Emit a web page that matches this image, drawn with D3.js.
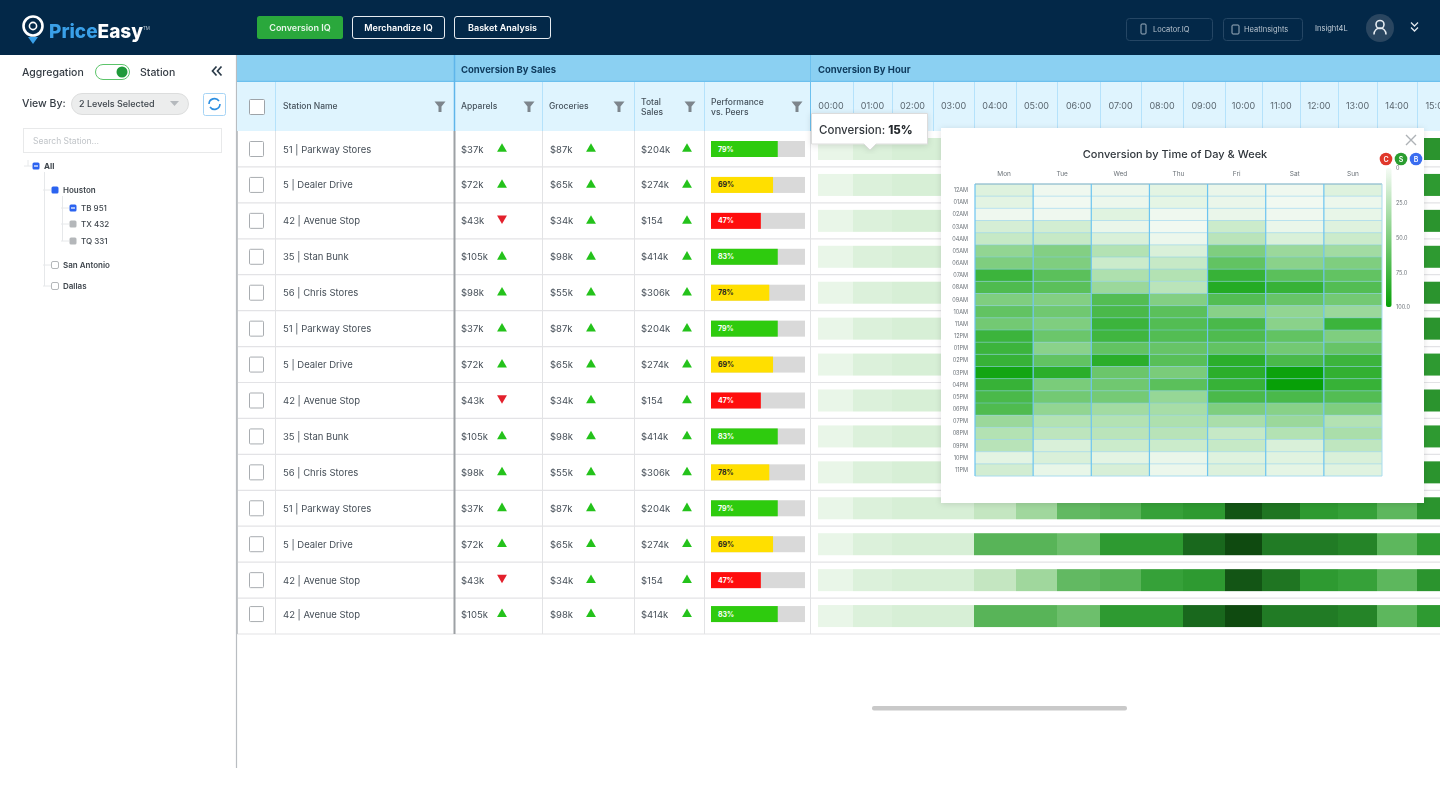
<!DOCTYPE html>
<html>
<head>
<meta charset="utf-8">
<title>PriceEasy Conversion IQ</title>
<script src="https://cdn.jsdelivr.net/npm/d3@7"></script>
<style>
  html, body { margin: 0; background: #fff; overflow: hidden; }
  svg { display: block; filter: blur(.7px); }
  text { font-family: Inter, "Open Sans", sans-serif; }
</style>
</head>
<body>
<svg id="board" width="1440" height="809"></svg>
<script>

var stations = ['51 | Parkway Stores', '5 | Dealer Drive', '42 | Avenue Stop', '35 | Stan Bunk', '56 | Chris Stores',
                '51 | Parkway Stores', '5 | Dealer Drive', '42 | Avenue Stop', '35 | Stan Bunk', '56 | Chris Stores',
                '51 | Parkway Stores', '5 | Dealer Drive', '42 | Avenue Stop', '42 | Avenue Stop'];
var apparels = ['$37k', '$72k', '$43k', '$105k', '$98k', '$37k', '$72k', '$43k', '$105k', '$98k', '$37k', '$72k', '$43k', '$105k'];
var apparelsUp = [1, 1, 0, 1, 1, 1, 1, 0, 1, 1, 1, 1, 0, 1];
var groceries = ['$87k', '$65k', '$34k', '$98k', '$55k', '$87k', '$65k', '$34k', '$98k', '$55k', '$87k', '$65k', '$34k', '$98k'];
var totals = ['$204k', '$274k', '$154', '$414k', '$306k', '$204k', '$274k', '$154', '$414k', '$306k', '$204k', '$274k', '$154', '$414k'];
var perfLabels = ['79%', '69%', '47%', '83%', '78%', '79%', '69%', '47%', '83%', '78%', '79%', '69%', '47%', '83%'];
var perfBars = [71, 66, 53, 71, 62, 71, 66, 53, 71, 62, 71, 66, 53, 71];
var perfBands = ['good', 'mid', 'bad', 'good', 'mid', 'good', 'mid', 'bad', 'good', 'mid', 'good', 'mid', 'bad', 'good'];

var hours = ['00:00', '01:00', '02:00', '03:00', '04:00', '05:00', '06:00', '07:00', '08:00', '09:00', '10:00', '11:00', '12:00', '13:00', '14:00', '15:00'];
var hourlyRamp = [3, 8, 10, 10, 18, 32, 54, 58, 72, 76, 97, 88, 76, 72, 56, 78];
var hourlyPeak = [3, 8, 10, 10, 58, 58, 50, 76, 76, 92, 100, 86, 86, 83, 56, 76];
var rowHourly = [hourlyRamp, hourlyPeak, hourlyRamp, hourlyPeak, hourlyRamp, hourlyRamp, hourlyPeak, hourlyRamp, hourlyPeak, hourlyRamp, hourlyRamp, hourlyPeak, hourlyRamp, hourlyPeak];

var days = ['Mon', 'Tue', 'Wed', 'Thu', 'Fri', 'Sat', 'Sun'];
var dayHours = ['12AM', '01AM', '02AM', '03AM', '04AM', '05AM', '06AM', '07AM', '08AM', '09AM', '10AM', '11AM',
                '12PM', '01PM', '02PM', '03PM', '04PM', '05PM', '06PM', '07PM', '08PM', '09PM', '10PM', '11PM'];
var weekly = [
  [10, 3, 4, 8, 5, 3, 10],
  [8, 2, 4, 7, 5, 2, 4],
  [3, 3, 9, 3, 5, 3, 6],
  [14, 15, 5, 2, 18, 5, 10],
  [20, 20, 12, 4, 25, 12, 18],
  [42, 48, 28, 12, 50, 38, 35],
  [50, 50, 18, 20, 62, 45, 50],
  [78, 65, 30, 28, 80, 65, 62],
  [70, 65, 38, 25, 88, 80, 68],
  [50, 48, 68, 48, 68, 60, 55],
  [62, 56, 72, 65, 46, 42, 38],
  [55, 50, 78, 68, 72, 45, 78],
  [78, 58, 76, 68, 70, 62, 50],
  [78, 45, 62, 60, 62, 55, 60],
  [80, 62, 85, 66, 85, 72, 78],
  [95, 85, 58, 52, 85, 98, 82],
  [80, 52, 56, 65, 80, 100, 80],
  [72, 55, 54, 40, 72, 72, 68],
  [70, 42, 35, 33, 50, 46, 50],
  [38, 28, 28, 30, 32, 38, 28],
  [28, 24, 25, 26, 20, 28, 32],
  [26, 12, 18, 18, 20, 12, 23],
  [8, 12, 8, 5, 10, 9, 12],
  [15, 6, 13, 4, 11, 7, 9]
];
var legendTicks = [0, 25, 50, 75, 100];

var hourEdges = [818, 853, 892, 933, 974, 1016, 1057, 1100, 1141, 1183, 1225, 1262, 1300, 1338, 1377, 1417, 1457];
var DARK = '#032848', INK = '#454e57', FILTER = '#7d858c';

var svg = d3.select('#board');

function label(parent, x, y, str, size, fill, weight, anchor) {
  return parent.append('text')
      .attr('x', x).attr('y', y)
      .attr('font-size', size)
      .attr('fill', fill)
      .attr('font-weight', weight || 400)
      .attr('text-anchor', anchor || 'start')
      .text(str);
}

function box(parent, x, y, w, h, fill, stroke, r) {
  return parent.append('rect')
      .attr('x', x).attr('y', y).attr('width', w).attr('height', h)
      .attr('fill', fill || 'none')
      .attr('stroke', stroke || 'none')
      .attr('rx', r || 0);
}

function vline(parent, x, y1, y2, stroke, w) {
  return parent.append('line')
      .attr('x1', x).attr('x2', x).attr('y1', y1).attr('y2', y2)
      .attr('stroke', stroke).attr('stroke-width', w || 1);
}

function hline(parent, y, x1, x2, stroke, w) {
  return parent.append('line')
      .attr('x1', x1).attr('x2', x2).attr('y1', y).attr('y2', y)
      .attr('stroke', stroke).attr('stroke-width', w || 1);
}

// ---- top bar
var topBar = svg.append('g');
box(topBar, 0, 0, 1440, 55, DARK);
topBar.append('circle').attr('cx', 33).attr('cy', 26).attr('r', 9.5).attr('fill', 'none').attr('stroke', '#fff').attr('stroke-width', 2.6);
topBar.append('circle').attr('cx', 33).attr('cy', 26).attr('r', 3.6).attr('fill', 'none').attr('stroke', '#fff').attr('stroke-width', 1.6);
topBar.append('path').attr('d', 'M28 37L38 37L33 44Z').attr('fill', '#3aa0e8');
var logo = label(topBar, 49, 38, 'Price', 19, '#3aa0e8', 800);
logo.append('tspan').attr('fill', '#fff').text('Easy');
logo.append('tspan').attr('fill', '#b9c4ce').attr('font-size', 4.5).attr('dy', -8).attr('font-weight', 400).text('TM');

box(topBar, 257, 16, 86, 23, '#2aa83c', null, 2.5);
label(topBar, 300, 30.5, 'Conversion IQ', 9, '#e8f6ea', 600, 'middle');
box(topBar, 352.5, 16.5, 92, 22, 'none', '#e6ebf0', 2.5);
label(topBar, 398.5, 30.5, 'Merchandize IQ', 9, '#fff', 600, 'middle');
box(topBar, 454.5, 16.5, 96, 22, 'none', '#e6ebf0', 2.5);
label(topBar, 502.5, 30.5, 'Basket Analysis', 9, '#fff', 600, 'middle');

box(topBar, 1126.5, 18.5, 86, 22, 'none', '#254664', 3);
box(topBar, 1141, 24, 5, 10, 'none', '#9fb0bf', 1);
label(topBar, 1153, 32, 'Locator.IQ', 7.5, '#b7c3ce');
box(topBar, 1223.5, 18.5, 79, 22, 'none', '#254664', 3);
box(topBar, 1232, 25, 7, 9, 'none', '#9fb0bf', 1);
label(topBar, 1244, 32, 'HeatInsights', 7.5, '#b7c3ce');
label(topBar, 1315, 31, 'Insight4L', 7.5, '#c3ced8');
topBar.append('circle').attr('cx', 1380).attr('cy', 28).attr('r', 14).attr('fill', '#2a4660');
topBar.append('circle').attr('cx', 1380).attr('cy', 24.5).attr('r', 4).attr('fill', 'none').attr('stroke', '#e6ebf0').attr('stroke-width', 1.6);
topBar.append('path').attr('d', 'M1374 34.5C1374 26 1386 26 1386 34.5').attr('fill', 'none').attr('stroke', '#e6ebf0').attr('stroke-width', 1.6);
topBar.append('path').attr('d', 'M1411 22.5L1414.5 26L1418 22.5M1411 27.5L1414.5 31L1418 27.5').attr('fill', 'none').attr('stroke', '#dfe6ec').attr('stroke-width', 1.3);

// ---- left panel
var side = svg.append('g');
vline(side, 236.5, 55, 768, '#b9bdc1', 1.2);
label(side, 22, 76, 'Aggregation', 10.5, '#353c44', 500);
box(side, 95.5, 64.5, 34, 15, '#fff', '#5cc46a', 7.5);
side.append('circle').attr('cx', 122).attr('cy', 72).attr('r', 5.5).attr('fill', '#1f9a3a');
label(side, 140, 76, 'Station', 10.5, '#353c44', 500);
side.append('path').attr('d', 'M216.5 66.5L212.5 71L216.5 75.5M221.5 66.5L217.5 71L221.5 75.5').attr('fill', 'none').attr('stroke', '#2a3a48').attr('stroke-width', 1.7);
label(side, 22, 107, 'View By:', 10.5, '#353c44', 500);
box(side, 71.5, 93.5, 117, 21, '#eceded', '#dcdddd', 10.5);
label(side, 79, 107, '2 Levels Selected', 9, '#3e454c', 500);
side.append('path').attr('d', 'M170 101L179 101L174.5 106Z').attr('fill', '#b5b9bd');
box(side, 203.5, 93.5, 22, 22, '#fff', '#a6d4f5', 2);
side.append('path').attr('d', 'M209 104A5.5 5.5 0 0 1 219 101M220 104A5.5 5.5 0 0 1 210 107').attr('fill', 'none').attr('stroke', '#2e8fe0').attr('stroke-width', 1.6);
box(side, 23.5, 128.5, 198, 24, '#fff', '#e8e9ea');
label(side, 33, 144, 'Search Station...', 8.5, '#c0c4c8');

var treeNodes = [
  { name: 'All', x: 36, y: 166, state: 'on', w: 700 },
  { name: 'Houston', x: 55, y: 190, state: 'on', w: 600 },
  { name: 'TB 951', x: 73, y: 208, state: 'on', w: 500 },
  { name: 'TX 432', x: 73, y: 224, state: 'some', w: 500 },
  { name: 'TQ 331', x: 73, y: 241, state: 'some', w: 500 },
  { name: 'San Antonio', x: 55, y: 265, state: 'off', w: 600 },
  { name: 'Dallas', x: 55, y: 286, state: 'off', w: 600 }
];
vline(side, 28, 160, 166, '#e6e8ea');
vline(side, 44.5, 172, 286, '#e6e8ea');
vline(side, 62.5, 196, 241, '#e6e8ea');
treeNodes.forEach(function(n) {
  hline(side, n.y, n.x - 12, n.x - 4, '#e6e8ea');
  var fill = n.state === 'on' ? '#2b63f0' : n.state === 'some' ? '#b4b7ba' : '#fff';
  var stroke = n.state === 'off' ? '#b4b7ba' : 'none';
  box(side, n.x - 3.5, n.y - 3.5, 7, 7, fill, stroke, 1.5);
  if (n.name === 'All' || n.name === 'TB 951') hline(side, n.y, n.x - 2, n.x + 2, '#fff', 1.2);
  label(side, n.x + 8, n.y + 3, n.name, 8, '#3e454c', n.w);
});

// ---- table frame
var rowY = d3.scaleBand().domain(d3.range(stations.length)).range([131, 634]);
var hourX = d3.scaleOrdinal().domain(hours).range(hourEdges);
var hourW = function(h) { return hourEdges[hours.indexOf(h) + 1] - hourX(h); };

var band = svg.append('g');
box(band, 237, 55, 1203, 27, '#8bd0f2');
hline(band, 81.5, 237, 1440, '#6cc0ee', 1.5);
box(band, 237, 82, 1203, 49, '#dff4fe');
label(band, 461, 72.5, 'Conversion By Sales', 9.5, '#0e3a5c', 700);
label(band, 818, 72.5, 'Conversion By Hour', 9.5, '#0e3a5c', 700);
vline(band, 454.5, 55, 131, '#5fb5ea', 1.5);
vline(band, 810.5, 55, 131, '#6cc0ee', 1);

[275, 542, 634, 704].forEach(function(x) { vline(band, x + .5, 82, 131, '#b5e2fb'); });
hourEdges.slice(1, -1).forEach(function(x) { vline(band, x + .5, 82, 131, '#b5e2fb'); });
box(band, 249.5, 99.5, 15, 15, '#fff', '#9ea3a8', 1);

var headers = [
  { lines: ['Station Name'], x: 283, f: 440 },
  { lines: ['Apparels'], x: 461, f: 529 },
  { lines: ['Groceries'], x: 549, f: 619 },
  { lines: ['Total', 'Sales'], x: 641, f: 690 },
  { lines: ['Performance', 'vs. Peers'], x: 711, f: 797 }
];
headers.forEach(function(h) {
  var y0 = h.lines.length === 1 ? 109 : 105;
  h.lines.forEach(function(t, i) { label(band, h.x, y0 + i * 10, t, 8.5, '#46525c', 500); });
  band.append('path')
      .attr('d', 'M' + (h.f - 5.5) + ' 101.5h11l-4 5v5.5h-3v-5.5z')
      .attr('fill', FILTER);
});

band.selectAll('.hour-label')
    .data(hours)
  .enter().append('text')
    .attr('class', 'hour-label')
    .attr('x', function(d, i) { return i === 0 ? 831 : hourX(d) + hourW(d) / 2; })
    .attr('y', 109)
    .attr('font-size', 9)
    .attr('fill', '#5a666f')
    .attr('text-anchor', 'middle')
    .text(function(d) { return d; });

// ---- table rows
var body = svg.append('g');
var hourColor = d3.scaleLinear()
    .domain([0, 30, 55, 75, 90, 100])
    .range(['#f0f9f0', '#a6daa2', '#5fb85f', '#2f9d32', '#1c6f20', '#0f4a10']);
var perfFill = d3.scaleOrdinal().domain(['good', 'mid', 'bad']).range(['#2ecb0e', '#ffdf00', '#ff0d0d']);
var perfText = d3.scaleOrdinal().domain(['good', 'mid', 'bad']).range(['#fff', '#222', '#fff']);
var perfX = d3.scaleLinear().domain([0, 100]).range([711, 805]);

var rows = body.selectAll('.row')
    .data(stations)
  .enter().append('g')
    .attr('class', 'row')
    .attr('transform', function(d, i) { return 'translate(0,' + rowY(i) + ')'; });

rows.selectAll('.strip')
    .data(function(d, i) { return rowHourly[i].map(function(v, j) { return { hour: hours[j], value: v }; }); })
  .enter().append('rect')
    .attr('class', 'strip')
    .attr('x', function(d) { return hourX(d.hour); })
    .attr('width', function(d) { return hourW(d.hour); })
    .attr('y', 7)
    .attr('height', 22)
    .attr('fill', function(d) { return hourColor(d.value); });

rows.append('line')
    .attr('x1', 237).attr('x2', 1440).attr('y1', rowY.bandwidth()).attr('y2', rowY.bandwidth())
    .attr('stroke', '#e3e3e6').attr('stroke-width', 1.2);

// the last row sits a little higher in the source
var cells = rows.append('g')
    .attr('transform', function(d, i) { return i === stations.length - 1 ? 'translate(0,-2)' : null; });

cells.append('rect')
    .attr('x', 249.5).attr('y', 10.5).attr('width', 14).attr('height', 15)
    .attr('fill', '#fff').attr('stroke', '#a9adb1').attr('rx', 1);
cells.append('text').attr('x', 283).attr('y', 21.5).attr('font-size', 9.5).attr('fill', INK)
    .text(function(d) { return d; });
cells.append('text').attr('x', 461).attr('y', 21.5).attr('font-size', 9.5).attr('fill', INK)
    .text(function(d, i) { return apparels[i]; });
cells.append('text').attr('x', 550).attr('y', 21.5).attr('font-size', 9.5).attr('fill', INK)
    .text(function(d, i) { return groceries[i]; });
cells.append('text').attr('x', 641).attr('y', 21.5).attr('font-size', 9.5).attr('fill', INK)
    .text(function(d, i) { return totals[i]; });

var tri = d3.symbol().type(d3.symbolTriangle).size(42);
cells.append('path')
    .attr('d', tri)
    .attr('transform', function(d, i) { return 'translate(502,' + (apparelsUp[i] ? 18 : 15.5) + ')' + (apparelsUp[i] ? '' : 'rotate(180)'); })
    .attr('fill', function(d, i) { return apparelsUp[i] ? '#24c21b' : '#e3202c'; });
cells.append('path').attr('d', tri).attr('transform', 'translate(591,18)').attr('fill', '#24c21b');
cells.append('path').attr('d', tri).attr('transform', 'translate(687,18)').attr('fill', '#24c21b');

cells.append('rect')
    .attr('x', perfX(0)).attr('y', 10).attr('height', 16)
    .attr('width', perfX(100) - perfX(0))
    .attr('fill', '#d9d9d9');
cells.append('rect')
    .attr('x', perfX(0)).attr('y', 10).attr('height', 16)
    .attr('width', function(d, i) { return perfX(perfBars[i]) - perfX(0); })
    .attr('fill', function(d, i) { return perfFill(perfBands[i]); });
cells.append('text')
    .attr('x', 718).attr('y', 20.5)
    .attr('font-size', 7).attr('font-weight', 700)
    .attr('fill', function(d, i) { return perfText(perfBands[i]); })
    .text(function(d, i) { return perfLabels[i]; });

[275, 542, 634, 704, 810].forEach(function(x) { vline(body, x + .5, 131, 634, '#e2e3e5'); });
vline(body, 237.5, 131, 634, '#c3c6c9', 1);
vline(body, 454.5, 131, 634, '#9da1a5', 2);

box(svg, 872, 706, 255, 4.5, '#c9c9c9', null, 2);

// ---- popover
var defs = svg.append('defs');
var shadow = defs.append('filter').attr('id', 'soft').attr('x', '-10%').attr('y', '-10%').attr('width', '120%').attr('height', '120%');
shadow.append('feDropShadow').attr('dx', 0).attr('dy', 1).attr('stdDeviation', 3).attr('flood-color', '#000').attr('flood-opacity', .12);

var pop = svg.append('g');
box(pop, 941, 128, 483, 375, '#fff').attr('filter', 'url(#soft)');
label(pop, 1175, 158, 'Conversion by Time of Day & Week', 11, '#30363c', 500, 'middle');
pop.append('path').attr('d', 'M1406 135L1416 145M1416 135L1406 145').attr('stroke', '#aeb2b6').attr('stroke-width', 1.4);

var dayX = d3.scaleBand().domain(days).range([975, 1382]);
var slotY = d3.scaleBand().domain(dayHours).range([184, 476]);
var heatColor = d3.scaleLinear().domain([0, 100]).range(['#f6fbf6', '#07a007']);

pop.selectAll('.day')
    .data(days)
  .enter().append('text')
    .attr('class', 'day')
    .attr('x', function(d) { return dayX(d) + dayX.bandwidth() / 2; })
    .attr('y', 176)
    .attr('font-size', 6.5)
    .attr('fill', '#6b7278')
    .attr('text-anchor', 'middle')
    .text(function(d) { return d; });

pop.selectAll('.slot')
    .data(dayHours)
  .enter().append('text')
    .attr('class', 'slot')
    .attr('x', 968)
    .attr('y', function(d) { return slotY(d) + slotY.bandwidth() / 2 + 2; })
    .attr('font-size', 5.5)
    .attr('fill', '#6b7278')
    .attr('text-anchor', 'end')
    .text(function(d) { return d; });

pop.selectAll('.slot-row')
    .data(weekly)
  .enter().append('g')
    .attr('class', 'slot-row')
    .attr('transform', function(d, i) { return 'translate(0,' + slotY(dayHours[i]) + ')'; })
  .selectAll('rect')
    .data(function(d) { return d; })
  .enter().append('rect')
    .attr('x', function(d, i) { return dayX(days[i]); })
    .attr('width', dayX.bandwidth())
    .attr('height', slotY.bandwidth())
    .attr('fill', function(d) { return heatColor(d); });

dayHours.forEach(function(d) { hline(pop, slotY(d), 975, 1382, '#7cc9ee', .8).attr('opacity', .6); });
hline(pop, 476, 975, 1382, '#a9dcee', 1);
hline(pop, 184, 975, 1382, '#8fb6c4', 1);
days.forEach(function(d) { vline(pop, dayX(d), 184, 476, '#6cc4f0', 1.2); });
vline(pop, 1382, 184, 476, '#a9dcee', 1);

// colour legend
var legendY = d3.scaleLinear().domain([0, 100]).range([168, 307]);
var grad = defs.append('linearGradient').attr('id', 'legend-ramp').attr('x1', 0).attr('x2', 0).attr('y1', 0).attr('y2', 1);
grad.selectAll('stop')
    .data(legendTicks)
  .enter().append('stop')
    .attr('offset', function(d) { return d + '%'; })
    .attr('stop-color', function(d) { return heatColor(d); });
box(pop, 1386, legendY(0), 5.5, legendY(100) - legendY(0), 'url(#legend-ramp)', null, 2);

var legendAxis = d3.axisRight(legendY)
    .tickValues(legendTicks)
    .tickSize(0)
    .tickPadding(0)
    .tickFormat(function(d) { return d === 0 ? '0' : d3.format('.1f')(d); });
var legendG = pop.append('g').attr('transform', 'translate(1396,0)').call(legendAxis);
legendG.select('.domain').remove();
legendG.selectAll('text').attr('font-size', 5.5).attr('fill', '#6b7278');

var dots = [{ x: 1386, c: '#e0382b', t: 'C' }, { x: 1401, c: '#2a9d2f', t: 'S' }, { x: 1416, c: '#3a6df0', t: 'B' }];
dots.forEach(function(d) {
  pop.append('circle').attr('cx', d.x).attr('cy', 159).attr('r', 6.3).attr('fill', d.c);
  label(pop, d.x, 161.5, d.t, 7, '#fff', 600, 'middle');
});

// ---- tooltip
var tip = svg.append('g');
tip.append('path')
    .attr('d', 'M811.5 113.5H927.5V144H876L870 150L864 144H811.5Z')
    .attr('fill', '#fff')
    .attr('stroke', '#dcdcdc')
    .attr('filter', 'url(#soft)');
var tipText = label(tip, 819, 134, 'Conversion: ', 11.5, '#33383d', 500);
tipText.append('tspan').attr('font-weight', 800).attr('fill', '#22272b').text('15%');

</script>
</body>
</html>
